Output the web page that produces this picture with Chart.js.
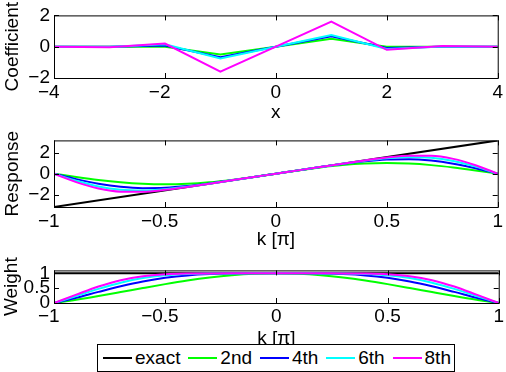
<!DOCTYPE html>
<html><head><meta charset="utf-8">
<script src="https://cdn.jsdelivr.net/npm/chart.js@4/dist/chart.umd.min.js"></script>
<style>
html,body{margin:0;padding:0;background:#fff;}
#wrap{position:relative;width:506px;height:372px;overflow:hidden;font-family:"Liberation Sans",Arial,sans-serif;}
canvas{position:absolute;left:0;}
#legend{position:absolute;left:97px;top:344px;width:358px;height:28px;box-sizing:border-box;border:1px solid #000;background:#fff;display:flex;align-items:center;justify-content:space-between;padding:0 3px 0 5px;font-size:19px;color:#000;white-space:nowrap;}
.it{display:flex;align-items:center;}
.ln{width:29px;height:2px;margin-right:3px}
</style></head>
<body><div id="wrap">
<canvas id="c1" width="506" height="125" style="top:0"></canvas>
<canvas id="c2" width="506" height="130" style="top:125px"></canvas>
<canvas id="c3" width="506" height="117" style="top:255px"></canvas>
<div id="legend"></div>
</div>
<script>
// ---- data ----
const seriesNames  = ['exact', '2nd', '4th', '6th', '8th'];
const seriesColors = ['#000000', '#00ff00', '#0000ff', '#00ffff', '#ff00ff'];

// top panel: coefficients vs x
const coefX = [-4, -3, -2, -1, 0, 1, 2, 3, 4];
const coef2 = [0, 0, 0, -0.5, 0, 0.5, 0, 0, 0];
const coef4 = [0, 0, 0.083, -0.667, 0, 0.667, -0.083, 0, 0];
const coef6 = [0, -0.017, 0.15, -0.75, 0, 0.75, -0.15, 0.017, 0];
const coef8 = [0.004, -0.038, 0.2, -1.6, 0, 1.6, -0.2, 0.038, -0.004];

// middle / bottom panels: k in units of pi
const kVals = [-1, -0.9, -0.8, -0.7, -0.6, -0.5, -0.4, -0.3, -0.2, -0.1, 0, 0.1, 0.2, 0.3, 0.4, 0.5, 0.6, 0.7, 0.8, 0.9, 1];
const exactK = [-1, 1];
const exactResp = [-3.1416, 3.1416];
const exactWeight = [1, 1];

const resp2 = [0, -0.309, -0.588, -0.809, -0.951, -1, -0.951, -0.809, -0.588, -0.309, 0, 0.309, 0.588, 0.809, 0.951, 1, 0.951, 0.809, 0.588, 0.309, 0];
const resp4 = [0, -0.510, -0.942, -1.237, -1.366, -1.333, -1.170, -0.920, -0.625, -0.314, 0, 0.314, 0.625, 0.920, 1.170, 1.333, 1.366, 1.237, 0.942, 0.510, 0];
const resp6 = [0, -0.667, -1.199, -1.509, -1.583, -1.467, -1.231, -0.939, -0.628, -0.314, 0, 0.314, 0.628, 0.939, 1.231, 1.467, 1.583, 1.509, 1.199, 0.667, 0];
const resp8 = [0, -0.798, -1.398, -1.694, -1.705, -1.524, -1.249, -0.942, -0.628, -0.314, 0, 0.314, 0.628, 0.942, 1.249, 1.524, 1.705, 1.694, 1.398, 0.798, 0];

const weight2 = [0, 0.109, 0.234, 0.368, 0.505, 0.637, 0.757, 0.858, 0.935, 0.984, 1, 0.984, 0.935, 0.858, 0.757, 0.637, 0.505, 0.368, 0.234, 0.109, 0];
const weight4 = [0, 0.180, 0.375, 0.563, 0.725, 0.849, 0.931, 0.976, 0.995, 1.0, 1, 1.0, 0.995, 0.976, 0.931, 0.849, 0.725, 0.563, 0.375, 0.180, 0];
const weight6 = [0, 0.236, 0.477, 0.686, 0.840, 0.934, 0.979, 0.996, 0.9995, 1.0, 1, 1.0, 0.9995, 0.996, 0.979, 0.934, 0.840, 0.686, 0.477, 0.236, 0];
const weight8 = [0, 0.282, 0.556, 0.770, 0.905, 0.970, 0.994, 0.999, 1.0, 1.0, 1, 1.0, 1.0, 0.999, 0.994, 0.970, 0.905, 0.770, 0.556, 0.282, 0];

// axes
const coefXTicks = [-4, -2, 0, 2, 4];
const coefYTicks = [-2, 0, 2];
const kTicks = [-1, -0.5, 0, 0.5, 1];
const respYTicks = [-2, 0, 2];
const weightYTicks = [0, 0.5, 1];

// ---- rendering ----
const FONT = '"Liberation Sans", Arial, Helvetica, sans-serif';
Chart.defaults.font.family = FONT;
Chart.defaults.font.size = 19;
Chart.defaults.color = '#000';

function fmt(v, hang) {
  if (v < 0) return '\u2212' + String(Math.abs(v)) + (hang ? '\u2007' : '');
  return String(v);
}

const framePlugin = {
  id: 'frame',
  afterDatasetsDraw(chart) {
    const {ctx, chartArea: a, scales: {x, y}} = chart;
    ctx.save();
    ctx.strokeStyle = '#000';
    ctx.lineWidth = 1;
    ctx.strokeRect(a.left + 0.5, a.top + 0.5, a.right - a.left, a.bottom - a.top);
    const L = 5;
    ctx.beginPath();
    x.ticks.forEach(t => {
      const px = Math.round(x.getPixelForValue(t.value)) + 0.5;
      ctx.moveTo(px, a.bottom); ctx.lineTo(px, a.bottom - L);
      ctx.moveTo(px, a.top); ctx.lineTo(px, a.top + L);
    });
    y.ticks.forEach(t => {
      const py = Math.round(y.getPixelForValue(t.value)) + 0.5;
      ctx.moveTo(a.left, py); ctx.lineTo(a.left + L, py);
      ctx.moveTo(a.right, py); ctx.lineTo(a.right - L, py);
    });
    ctx.stroke();
    ctx.restore();
  }
};

function ds(xs, ys, idx, smooth) {
  return {
    label: seriesNames[idx],
    data: xs.map((xv, i) => ({x: xv, y: ys[i]})),
    borderColor: seriesColors[idx],
    backgroundColor: seriesColors[idx],
    borderWidth: 2,
    pointRadius: 0,
    fill: false,
    order: 5 - idx,
    cubicInterpolationMode: smooth ? 'monotone' : 'default',
    tension: 0
  };
}

function makeChart(id, datasets, cfg) {
  return new Chart(document.getElementById(id), {
    type: 'line',
    data: {datasets},
    plugins: [framePlugin],
    options: {
      responsive: false,
      animation: false,
      devicePixelRatio: 1,
      layout: {padding: {top: cfg.padTop, right: 6, left: 0, bottom: 0}},
      plugins: {legend: {display: false}, tooltip: {enabled: false}},
      scales: {
        x: {
          type: 'linear', min: cfg.xMin, max: cfg.xMax,
          grid: {display: false, drawTicks: false},
          border: {display: false},
          afterBuildTicks: s => { s.ticks = cfg.xTicks.map(v => ({value: v})); },
          afterFit: s => { s.height = cfg.xAxisH; },
          ticks: {padding: cfg.xTickPad, maxRotation: 0, autoSkip: false, callback: v => fmt(v, true)},
          title: {display: true, text: cfg.xTitle, padding: {top: 0, bottom: cfg.xTitlePad}}
        },
        y: {
          type: 'linear', min: cfg.yMin, max: cfg.yMax,
          grid: {display: false, drawTicks: false},
          border: {display: false},
          afterBuildTicks: s => { s.ticks = cfg.yTicks.map(v => ({value: v})); },
          afterFit: s => { s.width = 54; },
          ticks: {padding: 4, autoSkip: false, callback: v => fmt(v, false)},
          title: {display: true, text: cfg.yTitle, padding: {top: cfg.yTitlePad, bottom: 0}}
        }
      }
    }
  });
}

makeChart('c1', [
  ds(coefX, coef2, 1, false), ds(coefX, coef4, 2, false), ds(coefX, coef6, 3, false), ds(coefX, coef8, 4, false)
], {padTop: 8, xAxisH: 47, xMin: -4, xMax: 4, yMin: -2, yMax: 2, xTicks: coefXTicks, yTicks: coefYTicks,
    xTitle: 'x', yTitle: 'Coefficient', xTickPad: 3, xTitlePad: 1, yTitlePad: 1});

makeChart('c2', [
  ds(exactK, exactResp, 0, false), ds(kVals, resp2, 1, true), ds(kVals, resp4, 2, true), ds(kVals, resp6, 3, true), ds(kVals, resp8, 4, true)
], {padTop: 12, xAxisH: 48, xMin: -1, xMax: 1, yMin: exactResp[0], yMax: exactResp[1], xTicks: kTicks, yTicks: respYTicks,
    xTitle: 'k [\u03c0]', yTitle: 'Response', xTickPad: 3, xTitlePad: 4, yTitlePad: 1});

makeChart('c3', [
  ds(exactK, exactWeight, 0, false), ds(kVals, weight2, 1, true), ds(kVals, weight4, 2, true), ds(kVals, weight6, 3, true), ds(kVals, weight8, 4, true)
], {padTop: 12, xAxisH: 69, xMin: -1, xMax: 1, yMin: 0, yMax: 1.1, xTicks: kTicks, yTicks: weightYTicks,
    xTitle: 'k [\u03c0]', yTitle: 'Weight', xTickPad: 2, xTitlePad: 22, yTitlePad: 0});

// legend
const leg = document.getElementById('legend');
seriesNames.forEach((n, i) => {
  const it = document.createElement('div'); it.className = 'it';
  const ln = document.createElement('span'); ln.className = 'ln'; ln.style.background = seriesColors[i];
  const tx = document.createElement('span'); tx.textContent = n;
  it.appendChild(ln); it.appendChild(tx); leg.appendChild(it);
});
</script>
</body></html>
